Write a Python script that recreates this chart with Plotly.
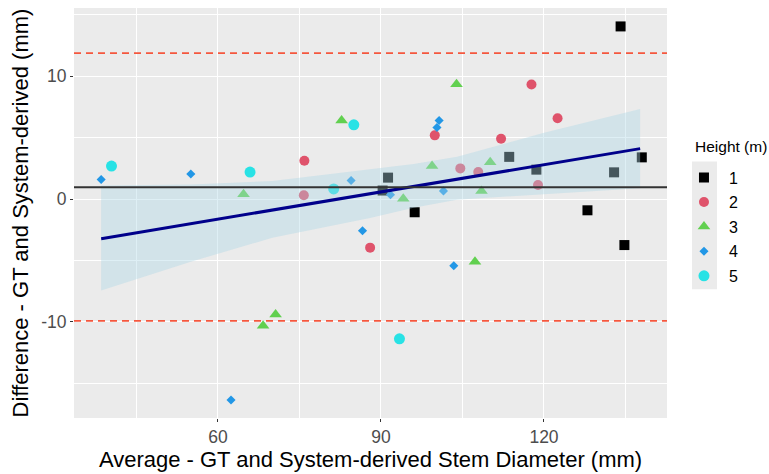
import plotly.graph_objects as go

# ---- data ----
h1_x = [90.3, 91.3, 96.2, 113.6, 118.6, 128.0, 132.9, 134.1, 134.8, 138.0]
h1_y = [0.70, 1.75, -1.07, 3.44, 2.40, -0.91, 2.18, 14.06, -3.74, 3.40]
h2_x = [75.9, 75.8, 88.0, 99.9, 104.6, 107.9, 112.1, 117.7, 118.9, 122.5]
h2_y = [3.12, 0.32, -3.95, 5.19, 2.50, 2.20, 4.92, 9.33, 1.15, 6.59]
h3_x = [64.7, 68.3, 70.6, 82.75, 94.1, 99.4, 103.9, 107.3, 108.5, 110.1]
h3_y = [0.40, -10.3, -9.4, 6.40, 0.02, 2.69, 9.35, -5.10, 0.67, 3.00]
h4_x = [38.5, 55.0, 62.4, 84.5, 86.6, 91.75, 100.3, 100.7, 101.5, 103.4]
h4_y = [1.60, 2.04, -16.35, 1.51, -2.58, 0.35, 5.83, 6.40, 0.67, -5.43]
h5_x = [40.4, 65.9, 81.3, 85.0, 93.4]
h5_y = [2.69, 2.20, 0.83, 6.05, -11.37]

band_x = [38.5, 55, 70, 88, 96, 104, 120, 137.7]
band_upper = [1.1, 1.2, 1.48, 2.44, 2.85, 3.45, 5.4, 7.34]
band_lower = [-7.44, -5.1, -3.15, -1.53, -0.7, -0.05, 0.40, 0.89]

reg_x = [38.5, 137.7]
reg_y = [-3.22, 4.11]

mean_diff = 0.97
upper_loa = 11.88
lower_loa = -9.92

x_ticks = [60, 90, 120]
y_ticks = [-10, 0, 10]

groups = [
    ("1", h1_x, h1_y, "#000000", "square", 10),
    ("2", h2_x, h2_y, "#DF536B", "circle", 10),
    ("3", h3_x, h3_y, "#61D04F", "triangle-up", 11),
    ("4", h4_x, h4_y, "#2297E6", "diamond", 7),
    ("5", h5_x, h5_y, "#28E2E5", "circle", 11),
]

FONT = "Liberation Sans, Arial, sans-serif"
fig = go.Figure()
for name, xs, ys, col, sym, sz in groups:
    fig.add_trace(go.Scatter(
        x=xs, y=ys, mode="markers", name=name, legendgroup=name,
        marker=dict(color=col, symbol=sym, size=sz, line=dict(width=0)),
    ))

fig.add_trace(go.Scatter(x=band_x, y=band_lower, mode="lines",
                         line=dict(width=0), showlegend=False, hoverinfo="skip"))
fig.add_trace(go.Scatter(x=band_x, y=band_upper, mode="lines", fill="tonexty",
                         fillcolor="rgba(173,216,230,0.40)",
                         line=dict(width=0), showlegend=False, hoverinfo="skip"))
fig.add_trace(go.Scatter(x=reg_x, y=reg_y, mode="lines",
                         line=dict(color="#00008B", width=3), showlegend=False))

shapes = [
    dict(type="line", xref="paper", x0=0, x1=1, yref="y", y0=mean_diff, y1=mean_diff,
         line=dict(color="#333333", width=2), layer="above"),
    dict(type="line", xref="paper", x0=0, x1=1, yref="y", y0=upper_loa, y1=upper_loa,
         line=dict(color="#F5573E", width=1.8, dash="7px,5px"), layer="above"),
    dict(type="line", xref="paper", x0=0, x1=1, yref="y", y0=lower_loa, y1=lower_loa,
         line=dict(color="#F5573E", width=1.8, dash="7px,5px"), layer="above"),
    # legend key background
    dict(type="rect", xref="paper", yref="paper", x0=1.0422, x1=1.0843, y0=0.314, y1=0.6256,
         fillcolor="#EBEBEB", line=dict(width=0), layer="below"),
]

fig.update_layout(
    width=769, height=474,
    margin=dict(l=74, r=102, t=8, b=52),
    paper_bgcolor="white", plot_bgcolor="#EBEBEB",
    font=dict(family=FONT, color="black"),
    shapes=shapes,
    annotations=[dict(text="Height (m)", xref="paper", yref="paper",
                      x=1.0438, y=0.6618, xanchor="left", yanchor="middle",
                      showarrow=False, font=dict(size=15.5, color="black"))],
    showlegend=True,
    legend=dict(
        font=dict(size=16, color="black"),
        x=1.0202, xanchor="left", y=0.628, yanchor="top",
        bgcolor="rgba(0,0,0,0)", tracegroupgap=0.8, itemwidth=40,
    ),
    xaxis=dict(
        range=[33.5, 142.64], tickmode="array", tickvals=x_ticks,
        ticktext=[str(v) for v in x_ticks],
        showgrid=True, gridcolor="white", gridwidth=1.2, zeroline=False,
        minor=dict(dtick=15, tick0=0, showgrid=True, gridcolor="white", gridwidth=0.6),
        ticks="outside", ticklen=3, tickcolor="#333333", tickwidth=1,
        tickfont=dict(size=17.5, color="#4D4D4D"),
        title=dict(text="Average - GT and System-derived Stem Diameter (mm)",
                   font=dict(size=22, color="black"), standoff=4),
        showline=False,
    ),
    yaxis=dict(
        range=[-17.82, 15.56], tickmode="array", tickvals=y_ticks,
        ticktext=[str(v) for v in y_ticks],
        showgrid=True, gridcolor="white", gridwidth=1.2, zeroline=False,
        minor=dict(dtick=5, tick0=0, showgrid=True, gridcolor="white", gridwidth=0.6),
        ticks="outside", ticklen=3, tickcolor="#333333", tickwidth=1,
        tickfont=dict(size=17.5, color="#4D4D4D"),
        title=dict(text="Difference - GT and System-derived (mm)",
                   font=dict(size=22, color="black"), standoff=6),
        showline=False,
    ),
)

fig.write_html("out.html")
